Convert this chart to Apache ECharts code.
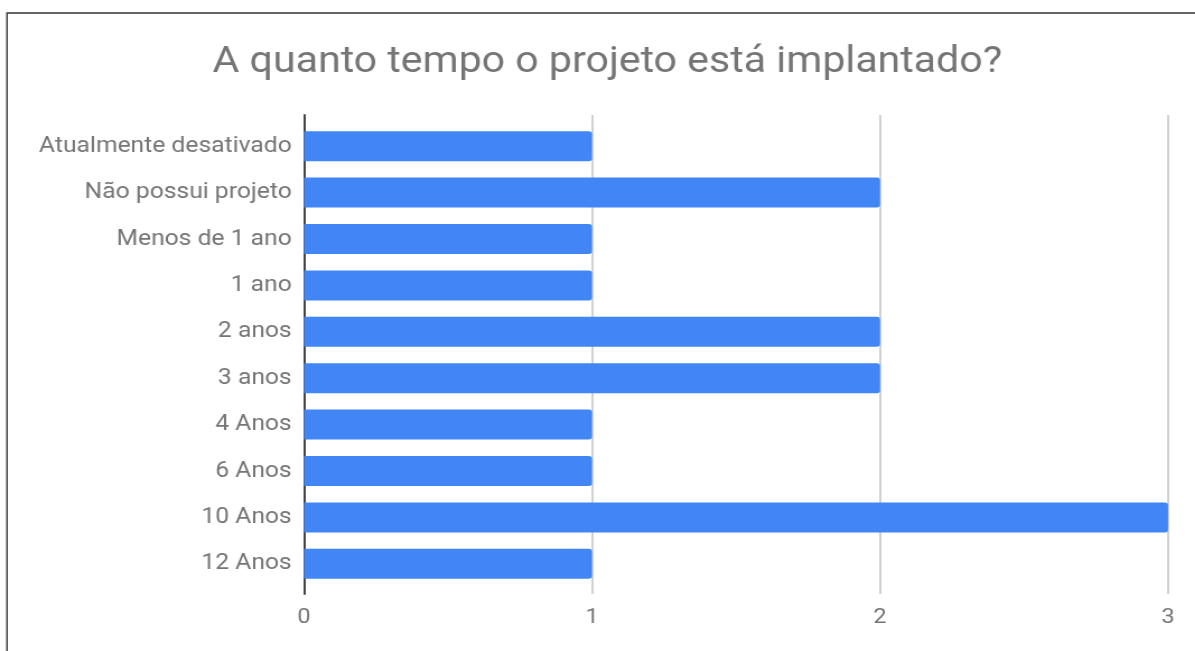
<!DOCTYPE html>
<html><head><meta charset="utf-8">
<script src="https://cdn.jsdelivr.net/npm/echarts@6/dist/echarts.min.js"></script>
<style>html,body{margin:0;padding:0;background:#fff;overflow:hidden}
#wrap{width:1195px;height:651px;overflow:hidden}
#c{width:1067px;height:651px;transform:scaleX(1.12);transform-origin:0 0}</style>
</head><body><div id="wrap"><div id="c"></div></div>
<script>
const titleText = 'A quanto tempo o projeto está implantado?';
const categories = ['Atualmente desativado','Não possui projeto','Menos de 1 ano','1 ano','2 anos','3 anos','4 Anos','6 Anos','10 Anos','12 Anos'];
const values = [1,2,1,1,2,2,1,1,3,1];
const xTicks = [0,1,2,3];

const S = 1.12; // horizontal stretch of the reference picture
const chart = echarts.init(document.getElementById('c'));
const font = 'Roboto, "Noto Sans", sans-serif';
chart.setOption({
  animation:false,
  backgroundColor:'#fff',
  title:{text:titleText,left:207/S,top:39,textStyle:{fontFamily:font,fontSize:36.7,fontWeight:'normal',color:'#757575'}},
  graphic:[{type:'rect',shape:{x:7/S,y:13,width:1200,height:700},style:{fill:'none',stroke:'#333',lineWidth:1.4},silent:true}],
  grid:[
    {left:304/S,right:27/S,top:115,height:479},
    {left:304/S,right:27/S,top:123,height:464}
  ],
  xAxis:[
    {gridIndex:0,type:'value',min:xTicks[0],max:xTicks[xTicks.length-1],interval:1,
     axisLine:{show:false},axisTick:{show:false},
     splitLine:{lineStyle:{color:'#cccccc',width:1.8}},
     axisLabel:{fontFamily:font,fontSize:21,color:'#757575',margin:13}},
    {gridIndex:1,type:'value',min:xTicks[0],max:xTicks[xTicks.length-1],interval:1,show:false}
  ],
  yAxis:[
    {gridIndex:0,type:'category',inverse:true,data:categories,
     axisLine:{show:true,lineStyle:{color:'#333',width:1.8}},axisTick:{show:false},axisLabel:{show:false}},
    {gridIndex:1,type:'category',inverse:true,data:categories,
     axisLine:{show:false},axisTick:{show:false},
     axisLabel:{fontFamily:font,fontSize:22,color:'#757575',margin:11}}
  ],
  series:[{type:'bar',xAxisIndex:1,yAxisIndex:1,data:values,barWidth:30,
    itemStyle:{color:'#4285F4',borderRadius:[0,3,3,0]}}]
});
</script></body></html>
